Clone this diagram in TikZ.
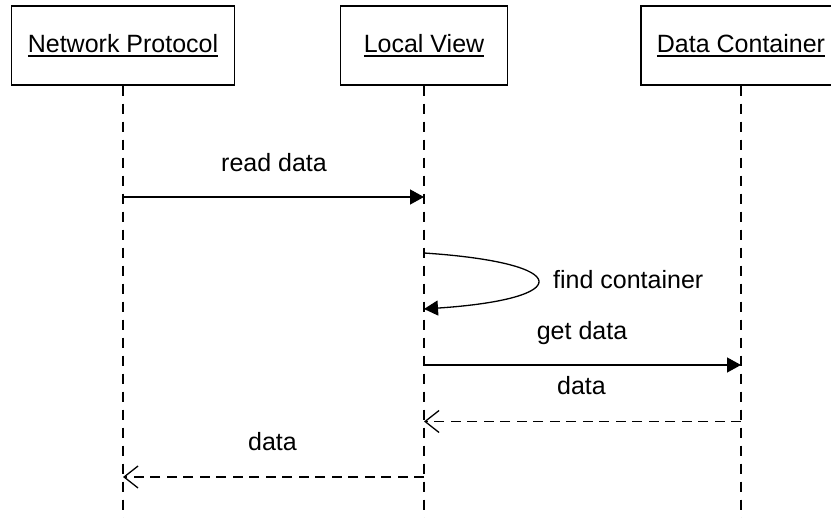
\documentclass[tikz,border=0pt]{standalone}
\usepackage{fontspec}
\setmainfont{Liberation Sans}
\usetikzlibrary{arrows.meta}
\newcommand\myul[1]{\setbox0=\hbox{#1}\rlap{\raisebox{-3.7pt}{\rule{\wd0}{1.4pt}}}\box0}
\begin{document}
\begin{tikzpicture}[x=1pt,y=-1pt,
  lbl/.style={font=\fontsize{25}{30}\selectfont, inner sep=0pt, anchor=base},
  objbox/.style={draw, line width=1.4pt, minimum height=79pt, inner sep=0pt,
    font=\fontsize{25}{30}\selectfont, text height=15pt, text depth=0pt},
  lifeline/.style={line width=1.3pt, dash pattern=on 10pt off 8pt},
  msg/.style={line width=1.3pt, -{Triangle[length=14pt,width=15pt]}},
  reply/.style={line width=1.3pt, dash pattern=on 10pt off 6.5pt, -{Straight Barb[length=14pt,width=22pt,line width=1.3pt]}}]
\useasboundingbox (0,0) rectangle (831,518);
\clip (0,0) rectangle (831,518);
% objects
\node[objbox, minimum width=223pt] (np) at (123,45.5) {\myul{Network Protocol}};
\node[objbox, minimum width=167pt] (lv) at (424,45.5) {\myul{Local View}};
\node[objbox, minimum width=200pt] (dc) at (741,45.5) {\myul{Data Container}};
% lifeline ends
\coordinate (npe) at (123,520);
\coordinate (lve) at (424,520);
\coordinate (dce) at (741,520);
\draw[lifeline] (np.south) -- (npe);
\draw[lifeline] (lv.south) -- (lve);
\draw[lifeline] (dc.south) -- (dce);
% message points
\coordinate (np1) at (123,197);
\coordinate (lv1) at (424,197);
\coordinate (lv2) at (424,253);
\coordinate (lv3) at (424,309);
\coordinate (lv4) at (424,365);
\coordinate (dc4) at (741,365);
\coordinate (dc5) at (741,421.5);
\coordinate (lv5) at (424,421.5);
\coordinate (lv6) at (424,477);
\coordinate (np6) at (123,477);
% messages
\draw[msg] (np1) -- (lv1);
\node[lbl] (l1) at (274,172) {read data};
\draw[msg] (lv2) .. controls (575,263) and (575,299) .. (lv3);
\node[lbl, anchor=base west] (l2) at (553,289) {find container};
\draw[msg] (lv4) -- (dc4);
\node[lbl] (l3) at (582,340) {get data};
\draw[reply] (dc5) -- (lv5);
\node[lbl] (l4) at (581.5,395) {data};
\draw[reply] (lv6) -- (np6);
\node[lbl] (l5) at (272.5,450.5) {data};
\end{tikzpicture}
\end{document}
